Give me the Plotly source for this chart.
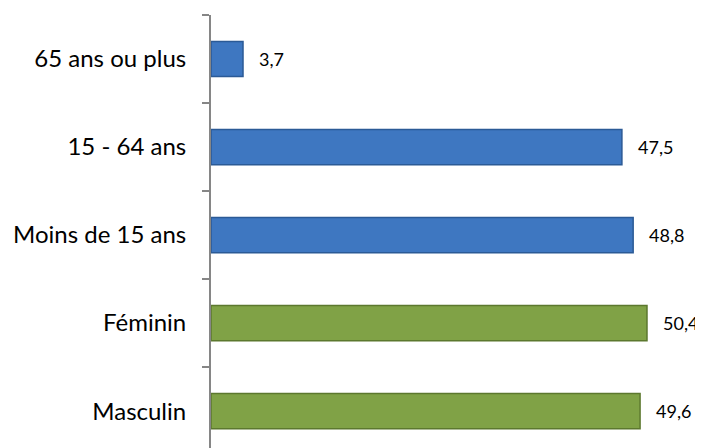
import plotly.graph_objects as go

categories = ["Masculin", "Féminin", "Moins de 15 ans", "15 - 64 ans", "65 ans ou plus"]
values = [49.6, 50.4, 48.8, 47.5, 3.7]
labels = ["49,6", "50,4", "48,8", "47,5", "3,7"]
colors = ["#80A246", "#80A246", "#3E77C1", "#3E77C1", "#3E77C1"]
edge_colors = ["#5C782E", "#5C782E", "#2B5A96", "#2B5A96", "#2B5A96"]

fig = go.Figure()
fig.add_trace(go.Bar(
    y=categories, x=values, orientation="h",
    marker=dict(color=colors, line=dict(color=edge_colors, width=1.5)),
    width=0.4, hoverinfo="skip",
))

for c, v, t in zip(categories, values, labels):
    fig.add_annotation(x=v, y=c, text=t, showarrow=False, xanchor="left",
                       xshift=14, font=dict(family="Lato", size=18, color="#000000"))

fig.update_layout(
    template="none",
    width=703, height=448,
    margin=dict(l=203, r=0, t=7, b=0, pad=0),
    paper_bgcolor="white", plot_bgcolor="white",
    showlegend=False,
    xaxis=dict(range=[0, 57.8], visible=False, fixedrange=True, automargin=False),
    yaxis=dict(
        type="category", range=[-0.51, 4.5], automargin=False,
        showline=True, linecolor="#868686", linewidth=2,
        ticks="outside", tickson="boundaries", ticklen=7, tickcolor="#868686", tickwidth=1.5,
        showgrid=False, zeroline=False,
        tickfont=dict(family="Lato", size=24, color="#000000"),
        ticklabelstandoff=18,
    ),
    bargap=0.6,
)

fig.write_html("out.html")
